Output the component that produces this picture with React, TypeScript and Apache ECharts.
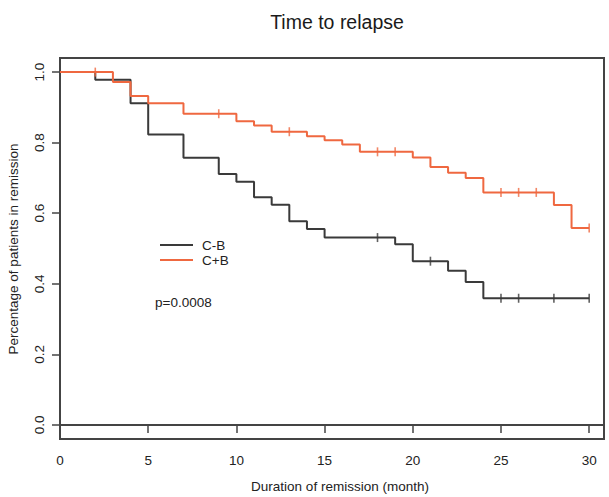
import React, { useEffect, useRef } from "react";
import * as echarts from "echarts";

const FONT = "'Liberation Sans', Arial, sans-serif";

// Kaplan-Meier step points: [month, proportion]
const timesCB = [0, 2, 4, 5, 7, 9, 10, 11, 12, 13, 14, 15, 19, 20, 22, 23, 24, 30];
const survCB = [1.0, 0.978, 0.912, 0.823, 0.757, 0.711, 0.689, 0.645, 0.624, 0.577, 0.555, 0.531, 0.512, 0.464, 0.437, 0.405, 0.359, 0.359];
const censorTimesCB = [18, 21, 25, 26, 28, 30];
const censorSurvCB = [0.531, 0.464, 0.359, 0.359, 0.359, 0.359];

const timesCpB = [0, 3, 4, 5, 7, 10, 11, 12, 14, 15, 16, 17, 20, 21, 22, 23, 24, 28, 29, 30];
const survCpB = [1.0, 0.972, 0.932, 0.912, 0.882, 0.861, 0.849, 0.831, 0.818, 0.807, 0.795, 0.774, 0.758, 0.731, 0.715, 0.7, 0.659, 0.623, 0.558, 0.558];
const censorTimesCpB = [2, 9, 13, 18, 19, 25, 26, 27, 30];
const censorSurvCpB = [1.0, 0.882, 0.831, 0.774, 0.774, 0.659, 0.659, 0.659, 0.558];

const xTicks = [0, 5, 10, 15, 20, 25, 30];
const yTicks = [0, 0.2, 0.4, 0.6, 0.8, 1.0];
const seriesNames = ["C-B", "C+B"];

const BLACK = "#3a3a3a";
const ORANGE = "#ef6840";

function zip(a: number[], b: number[]) {
  return a.map((v, i) => [v, b[i]]);
}

export default function App() {
  const ref = useRef<HTMLDivElement>(null);
  useEffect(() => {
    if (!ref.current) return;
    const chart = echarts.init(ref.current, undefined, { renderer: "svg" });
    const censorStyle = (color: string) => ({
      type: "scatter" as const,
      symbol: "rect",
      symbolSize: [1.6, 9],
      itemStyle: { color },
      z: 3,
    });
    chart.setOption({
      animation: false,
      backgroundColor: "#ffffff",
      textStyle: { fontFamily: FONT },
      grid: {
        left: 60,
        top: 58,
        width: 544,
        height: 381,
        show: true,
        borderColor: "#444",
        borderWidth: 2,
        backgroundColor: "transparent",
      },
      legend: {
        data: seriesNames,
        orient: "vertical",
        left: 155,
        top: 233,
        itemWidth: 33,
        itemHeight: 2,
        itemGap: 1,
        icon: "rect",
        textStyle: { fontFamily: FONT, fontSize: 13.5, color: "#222", padding: [0, 0, 0, 4] },
      },
      xAxis: {
        type: "value",
        min: 0,
        max: 30.84,
        axisLine: { show: true, lineStyle: { color: "#444", width: 2 } },
        axisTick: { show: true, customValues: xTicks, length: 8, inside: false, lineStyle: { color: "#444", width: 1.5 } },
        axisLabel: { customValues: xTicks, margin: 14, fontSize: 13.5, color: "#222", fontFamily: FONT },
        splitLine: { show: false },
      },
      yAxis: {
        type: "value",
        min: -0.04,
        max: 1.04,
        axisLine: { show: true, lineStyle: { color: "#444", width: 2 } },
        axisTick: { show: true, customValues: yTicks, length: 8, inside: false, lineStyle: { color: "#444", width: 1.5 } },
        axisLabel: {
          customValues: yTicks,
          rotate: 90,
          margin: 14,
          fontSize: 13.5,
          color: "#222",
          fontFamily: FONT,
          formatter: (v: number) => v.toFixed(1),
        },
        splitLine: { show: false },
      },
      graphic: [
        {
          type: "text",
          x: 337,
          y: 22,
          style: { text: "Time to relapse", fontSize: 19.5, fontFamily: FONT, fill: "#1a1a1a", textAlign: "center", textVerticalAlign: "middle" },
        },
        {
          type: "text",
          x: 340,
          y: 486,
          style: { text: "Duration of remission (month)", fontSize: 13.5, fontFamily: FONT, fill: "#222", textAlign: "center", textVerticalAlign: "middle" },
        },
        {
          type: "text",
          x: 13,
          y: 249,
          rotation: Math.PI / 2,
          style: { text: "Percentage of patients in remission", fontSize: 13.5, fontFamily: FONT, fill: "#222", textAlign: "center", textVerticalAlign: "middle" },
        },
        {
          type: "text",
          x: 155,
          y: 302,
          style: { text: "p=0.0008", fontSize: 13.5, fontFamily: FONT, fill: "#222", textAlign: "left", textVerticalAlign: "middle" },
        },
      ],
      series: [
        {
          name: "C-B",
          type: "line",
          step: "end",
          data: zip(timesCB, survCB),
          showSymbol: false,
          lineStyle: { color: BLACK, width: 2 },
          itemStyle: { color: BLACK },
          z: 2,
        },
        {
          name: "C+B",
          type: "line",
          step: "end",
          data: zip(timesCpB, survCpB),
          showSymbol: false,
          lineStyle: { color: ORANGE, width: 2 },
          itemStyle: { color: ORANGE },
          z: 2,
        },
        { name: "C-B censored", data: zip(censorTimesCB, censorSurvCB), ...censorStyle(BLACK) },
        { name: "C+B censored", data: zip(censorTimesCpB, censorSurvCpB), ...censorStyle(ORANGE) },
      ],
    });
    return () => chart.dispose();
  }, []);
  return <div ref={ref} style={{ width: 609, height: 497, position: "absolute", left: 0, top: 0 }} />;
}
